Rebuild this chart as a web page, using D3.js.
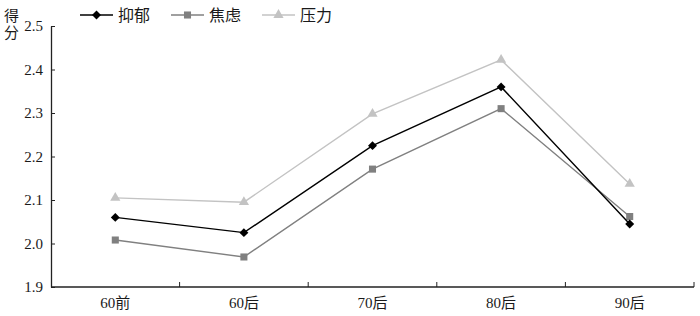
<!DOCTYPE html>
<html>
<head>
<meta charset="utf-8">
<script src="https://cdn.jsdelivr.net/npm/d3@7"></script>
<style>
  html, body { margin: 0; padding: 0; background: #fff; }
  svg { display: block; }
</style>
</head>
<body>
<svg id="chart" width="700" height="316"></svg>
<script>
// data
const categories = ["60前", "60后", "70后", "80后", "90后"];
const yiyu = [2.06, 2.025, 2.225, 2.36, 2.045];   // 抑郁
const jiaolv = [2.008, 1.969, 2.171, 2.31, 2.062]; // 焦虑
const yali = [2.105, 2.095, 2.298, 2.422, 2.137];  // 压力
const yTicks = [1.9, 2.0, 2.1, 2.2, 2.3, 2.4, 2.5];

const series = [
  { name: "抑郁", values: yiyu, color: "#000000", symbol: d3.symbolSquare, size: 40, rot: 45 },
  { name: "焦虑", values: jiaolv, color: "#808080", symbol: d3.symbolSquare, size: 50, rot: 0 },
  { name: "压力", values: yali, color: "#c3c3c3", symbol: d3.symbolTriangle, size: 45, rot: 0 }
];

const svg = d3.select("#chart");
const margin = { left: 51, right: 694, top: 26, bottom: 287 };
const FONT = "Times New Roman, Liberation Serif, Noto Sans CJK SC, serif";
const INK = "#1a1a1a";

const x = d3.scaleBand().domain(categories).range([margin.left, margin.right]);
const y = d3.scaleLinear().domain([1.9, 2.5]).range([margin.bottom, margin.top]);

// y axis (ticks point inward)
const yAxis = svg.append("g")
  .attr("transform", `translate(${margin.left},0)`)
  .call(d3.axisLeft(y).tickValues(yTicks).tickFormat(d3.format(".1f")).tickSizeInner(-4).tickSizeOuter(0).tickPadding(8));
yAxis.attr("font-family", FONT).attr("font-size", 15);
yAxis.select(".domain").attr("stroke", "#222").attr("stroke-width", 1.3);
yAxis.selectAll(".tick line").attr("stroke", "#222");
yAxis.selectAll("text").attr("fill", INK);

// x axis, tick marks at band edges
const xAxis = svg.append("g").attr("transform", `translate(0,${margin.bottom})`)
  .attr("font-family", FONT).attr("font-size", 15);
xAxis.append("line").attr("x1", margin.left).attr("x2", margin.right).attr("stroke", "#222").attr("stroke-width", 1.3);
const edges = categories.map(c => x(c)).concat([margin.right]);
xAxis.selectAll(".edge").data(edges.slice(1)).enter().append("line")
  .attr("x1", d => d).attr("x2", d => d).attr("y1", 0).attr("y2", -5)
  .attr("stroke", "#222");
xAxis.selectAll(".lbl").data(categories).enter().append("text")
  .attr("x", d => x(d) + x.bandwidth() / 2)
  .attr("y", 21)
  .attr("text-anchor", "middle")
  .attr("fill", INK)
  .text(d => d);

// y label 得分 (stacked)
const yl = svg.append("g").attr("font-family", FONT).attr("font-size", 15).attr("fill", INK);
yl.append("text").attr("x", 4).attr("y", 21).text("得");
yl.append("text").attr("x", 4).attr("y", 38).text("分");

const line = d3.line().x((d, i) => x(categories[i]) + x.bandwidth() / 2).y(d => y(d));

// draw lightest first so black sits on top
[...series].reverse().forEach(s => {
  svg.append("path").datum(s.values)
    .attr("d", line).attr("fill", "none")
    .attr("stroke", s.color).attr("stroke-width", 1.4);
  svg.selectAll(null).data(s.values).enter().append("path")
    .attr("d", d3.symbol().type(s.symbol).size(s.size))
    .attr("transform", (d, i) => `translate(${x(categories[i]) + x.bandwidth() / 2},${y(d)}) rotate(${s.rot})`)
    .attr("fill", s.color);
});

// legend
const legendX = [80, 171, 262];
series.forEach((s, i) => {
  const g = svg.append("g").attr("transform", `translate(${legendX[i]},15)`);
  g.append("line").attr("x1", 0).attr("x2", 33).attr("stroke", s.color).attr("stroke-width", 1.4);
  g.append("path").attr("d", d3.symbol().type(s.symbol).size(s.size))
    .attr("transform", `translate(16.5,0) rotate(${s.rot})`).attr("fill", s.color);
  g.append("text").attr("x", 38).attr("y", 6)
    .attr("font-family", FONT).attr("font-size", 16).attr("fill", INK)
    .text(s.name);
});
</script>
</body>
</html>
